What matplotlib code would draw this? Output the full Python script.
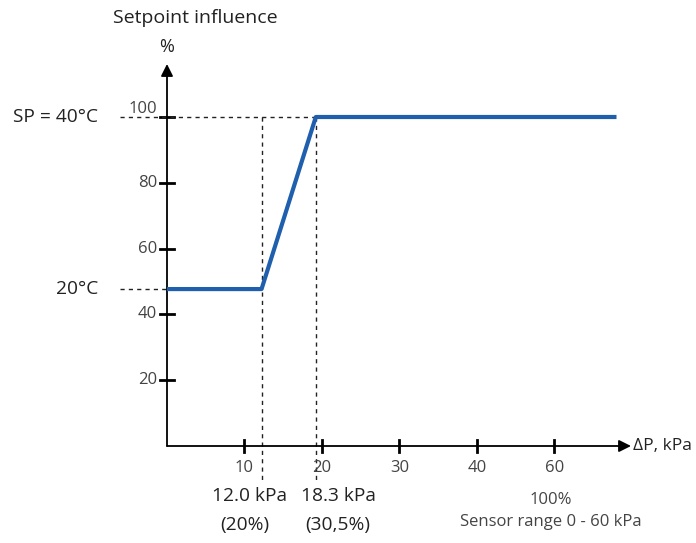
import matplotlib.pyplot as plt
import numpy as np

plt.rcParams['font.family'] = ['Open Sans', 'DejaVu Sans']

# Data (x in tick-slot units, y in %)
x_pos = [0, 12.2, 19.2, 58.0]
y_val = [47.7, 47.7, 100, 100]

x_ticks = [10, 20, 30, 40, 50]
x_ticklabels = ['10', '20', '30', '40', '60']
y_ticks = [20, 40, 60, 80, 100]
y_ticklabels = ['20', '40', '60', '80', '100']

# Scale: pixels per unit
px_x, px_y = 7.75, 3.29
x0_px, y0_px = 167, 446
W, H = 696, 543

fig = plt.figure(figsize=(W / 100, H / 100), dpi=100)
ax = fig.add_axes([0, 0, 1, 1])
ax.set_xlim(-x0_px / px_x, (W - x0_px) / px_x)
ax.set_ylim(-(H - y0_px) / px_y, y0_px / px_y)
ax.axis('off')

text_col = '#222222'
tick_col = '#444444'
blue = '#1f5fad'

# Axes lines with arrow heads
ax.annotate('', xy=((631 - x0_px) / px_x, 0), xytext=(0, 0),
            arrowprops=dict(arrowstyle='-|>', color='black', lw=1.3,
                            mutation_scale=18, shrinkA=0, shrinkB=0))
ax.annotate('', xy=(0, (446 - 64) / px_y), xytext=(0, 0),
            arrowprops=dict(arrowstyle='-|>', color='black', lw=1.3,
                            mutation_scale=18, shrinkA=0, shrinkB=0))

# Ticks
for xt, lab in zip(x_ticks, x_ticklabels):
    ax.plot([xt, xt], [-1.8, 1.8], color='black', lw=2)
    ax.text(xt, -22 / px_y, lab, ha='center', va='center', fontsize=12, color=tick_col)
for yt, lab in zip(y_ticks, y_ticklabels):
    ax.plot([-0.9, 0.9], [yt, yt], color='black', lw=2)
    ax.text(-1.3, yt + (2.5 if yt == 100 else 0), lab,
            ha='right', va='center', fontsize=12, color=tick_col)

# Dashed reference lines
dash = dict(color='#222222', lw=1, linestyle=(0, (3, 3)))
ax.plot([-6.0, x_pos[2]], [100, 100], **dash)
ax.plot([-6.0, 0], [y_val[0], y_val[0]], **dash)
ax.plot([x_pos[1], x_pos[1]], [100, -11], **dash)
ax.plot([x_pos[2], x_pos[2]], [100, -11], **dash)

# Setpoint curve
ax.plot(x_pos, y_val, color=blue, lw=3, solid_capstyle='butt', zorder=5)

# Texts
ax.text((113 - x0_px) / px_x, (446 - 18) / px_y, 'Setpoint influence',
        ha='left', va='center', fontsize=14, color=text_col)
ax.text(0, (446 - 47) / px_y, '%', ha='center', va='center', fontsize=13, color=text_col)
ax.text((633 - x0_px) / px_x, 0, '\u0394P, kPa', ha='left', va='center',
        fontsize=12.5, color=text_col)
ax.text((98 - x0_px) / px_x, 100, 'SP = 40°C', ha='right', va='center',
        fontsize=13.8, color=text_col)
ax.text((98 - x0_px) / px_x, y_val[0], '20°C', ha='right', va='center',
        fontsize=13.8, color=text_col)
ax.text((250 - x0_px) / px_x, (446 - 496) / px_y, '12.0 kPa', ha='center', va='center',
        fontsize=13.8, color=text_col)
ax.text((245 - x0_px) / px_x, (446 - 525) / px_y, '(20%)', ha='center', va='center',
        fontsize=13.8, color=text_col)
ax.text((338 - x0_px) / px_x, (446 - 496) / px_y, '18.3 kPa', ha='center', va='center',
        fontsize=13.8, color=text_col)
ax.text((338 - x0_px) / px_x, (446 - 525) / px_y, '(30,5%)', ha='center', va='center',
        fontsize=13.8, color=text_col)
ax.text((551 - x0_px) / px_x, (446 - 500) / px_y, '100%', ha='center', va='center',
        fontsize=12, color=tick_col)
ax.text((551 - x0_px) / px_x, (446 - 522) / px_y, 'Sensor range 0 - 60 kPa',
        ha='center', va='center', fontsize=12, color=tick_col)

fig.savefig('out.png', dpi=100)
